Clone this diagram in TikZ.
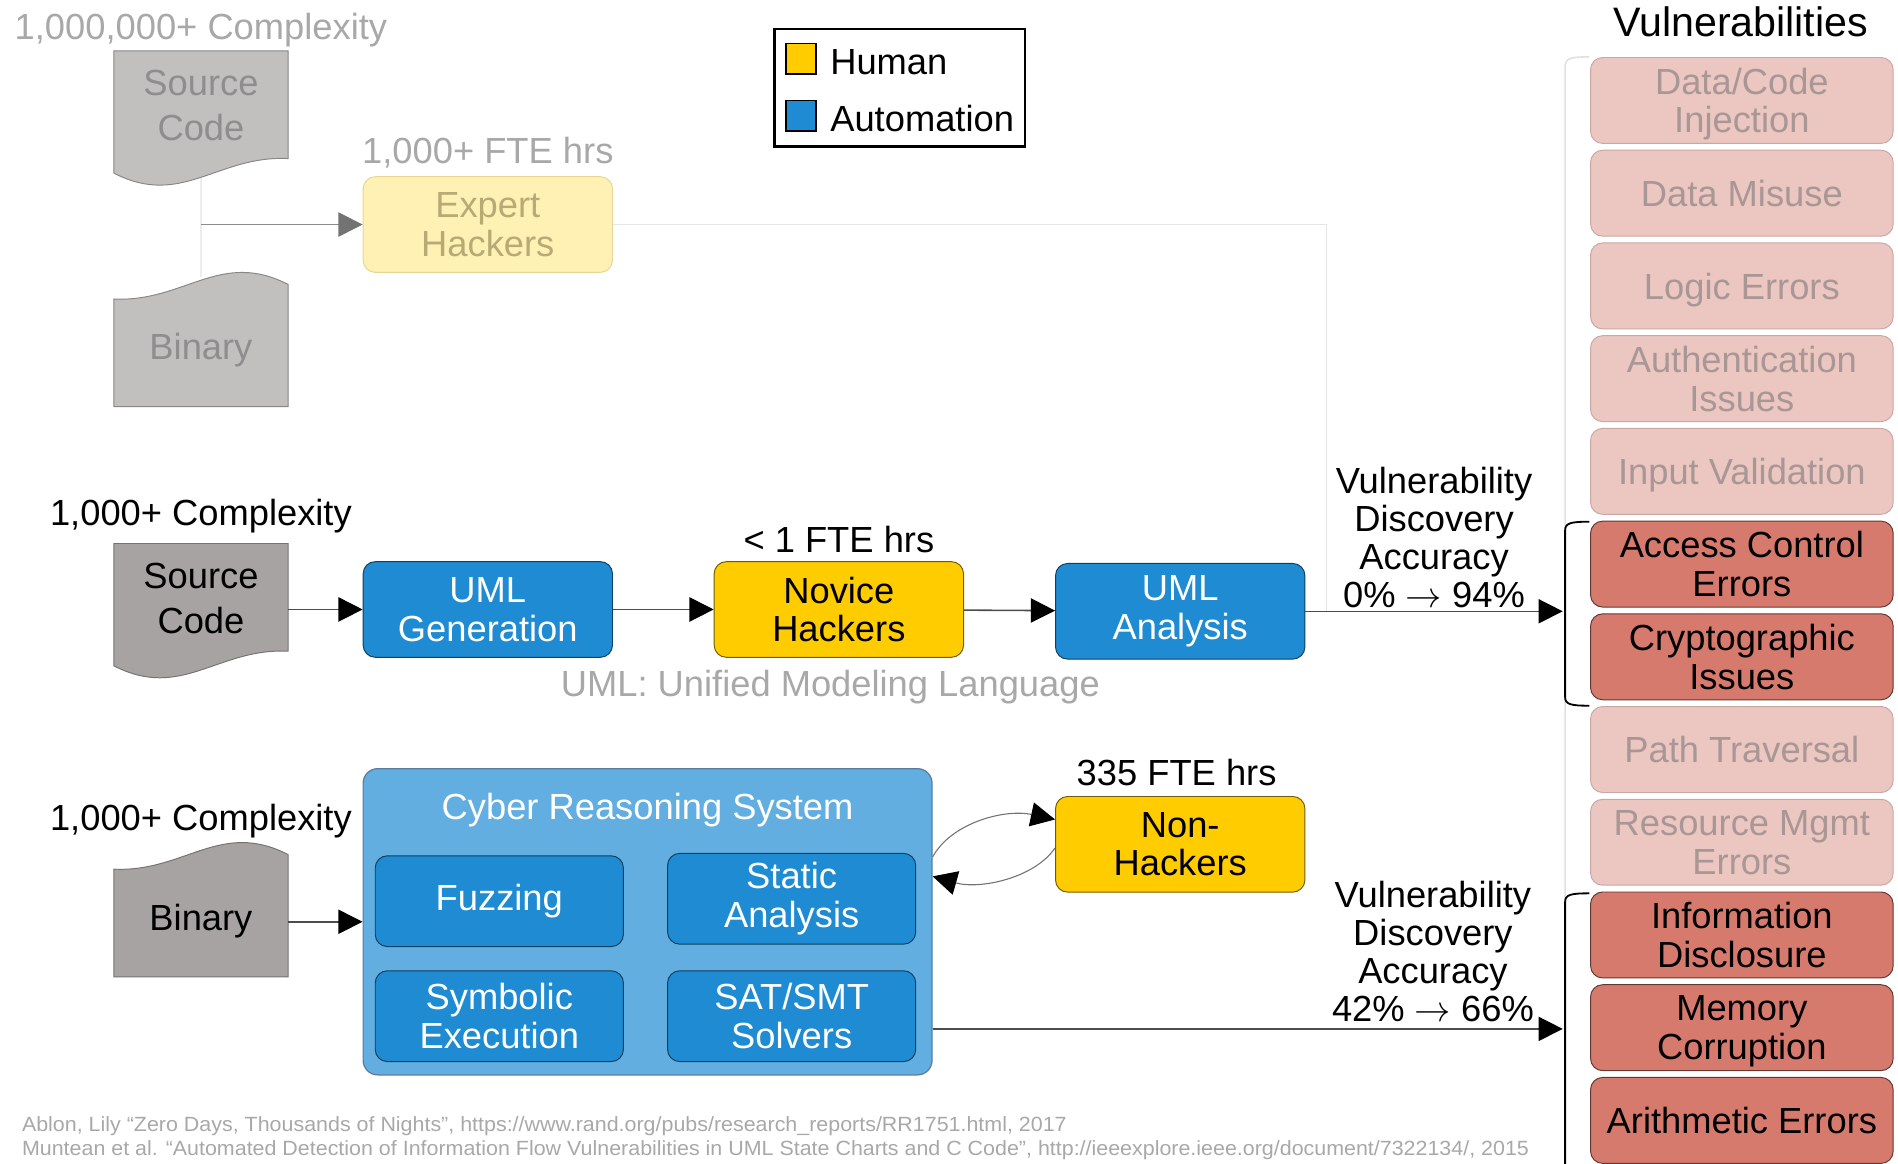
\documentclass[tikz,border=0pt]{standalone}
\usepackage{fix-cm}
\usepackage{fontspec}
\setmainfont{Liberation Sans}
\usepackage{graphicx}
\usetikzlibrary{positioning,arrows.meta,calc}
\definecolor{humanyellow}{HTML}{FFCC00}
\definecolor{autoblue}{HTML}{1E8BD2}
\definecolor{crsblue}{HTML}{62AEE0}
\definecolor{crsedge}{HTML}{5A7C9C}
\definecolor{docgrey}{HTML}{A7A3A3}
\definecolor{fadedoc}{HTML}{C2BFBF}
\definecolor{fadedoctext}{HTML}{8E8E8E}
\definecolor{fadetext}{HTML}{A8A8A8}
\definecolor{expertfill}{HTML}{FFF0B3}
\definecolor{expertdraw}{HTML}{E6D595}
\definecolor{experttext}{HTML}{B8AA74}
\definecolor{vulnlight}{HTML}{ECC6C1}
\definecolor{vulnlighttext}{HTML}{A89795}
\definecolor{vulndark}{HTML}{D77A6E}

\tikzset{
  procbox/.style={rounded corners=10pt, minimum width=206pt, minimum height=79pt,
    inner sep=2pt, align=center, line width=0.8pt},
  autobox/.style={procbox, fill=autoblue, draw=autoblue!45!black, text=white},
  humanbox/.style={procbox, fill=humanyellow, draw=humanyellow!45!black},
  crsitem/.style={autobox, minimum width=205pt, minimum height=75pt},
  vulnbox/.style={rounded corners=10pt, minimum width=250pt, minimum height=71pt,
    inner sep=2pt, text depth=0pt, align=center, line width=0.8pt},
  vlight/.style={vulnbox, fill=vulnlight, draw=vulnlight!85!black, text=vulnlighttext},
  vdark/.style={vulnbox, fill=vulndark, draw=vulndark!45!black},
  doctext/.style={minimum width=144pt, inner sep=0pt, align=center,
    font=\fontsize{30}{37}\selectfont},
  flow/.style={line width=1.3pt, draw=black!70,
    -{Triangle[length=20pt,width=20pt,color=black]}},
  loopflow/.style={line width=0.9pt, draw=black!55,
    -{Triangle[length=20pt,width=20pt,color=black]}},
  lbl/.style={inner sep=2pt, align=center},
  legkey/.style={draw, line width=1.5pt, minimum size=25pt, inner sep=0pt},
}

\begin{document}
\begin{tikzpicture}[x=1pt, y=-1pt, font=\fontsize{30}{32}\selectfont]
  \useasboundingbox (0,0) rectangle (1568,961);

  % document shapes (source code: wave at bottom, binary: wave on top)
  \foreach \ytop/\col in {42/fadedoc, 449/docgrey}
    \filldraw[fill=\col, draw=\col!70!black, line width=0.8pt]
      (94,\ytop) -- (238,\ytop) -- (238,\ytop+89)
      .. controls (180,\ytop+86) and (150,\ytop+130) .. (94,\ytop+101) -- cycle;
  \foreach \ybot/\col in {336/fadedoc, 807/docgrey}
    \filldraw[fill=\col, draw=\col!70!black, line width=0.8pt]
      (94,\ybot) -- (94,\ybot-89)
      .. controls (152,\ybot-86) and (182,\ybot-130) .. (238,\ybot-101)
      -- (238,\ybot) -- cycle;

  % faded top row
  \node[lbl, text=fadetext] (cxA) at (166,25) {1,000,000+ Complexity};
  \node[doctext, text=fadedoctext] (srcA) at (166,87) {Source\\Code};
  \node[doctext, text=fadedoctext] (binA) at (166,289) {Binary};
  \node[procbox, fill=expertfill, draw=expertdraw, text=experttext] (expert) at (403,185.5) {Expert\\Hackers};
  \node[lbl, text=fadetext] (fteA) at (403,126) {1,000+ FTE hrs};
  \coordinate (forkTop) at (166,147);
  \coordinate (forkBot) at (166,229);
  \coordinate (fork) at (166,185.5);
  \draw[line width=1pt, draw=black!7] (forkTop) -- (forkBot);
  \draw[line width=1.3pt, draw=black!45, -{Triangle[length=20pt,width=20pt,color=black!55]}] (fork) -- (expert);

  % legend
  \node[draw, line width=2pt, minimum width=207pt, minimum height=97pt] (legend) at (743.5,72.5) {};
  \node[legkey, fill=humanyellow] (keyH) at (661.5,48.5) {};
  \node[lbl, right=9pt of keyH, yshift=-2.5pt] (keyHtxt) {Human};
  \node[legkey, fill=autoblue] (keyA) at (661.5,95.5) {};
  \node[lbl, right=9pt of keyA, yshift=-2pt] (keyAtxt) {Automation};

  % source code row
  \node[lbl] (cxB) at (166,426) {1,000+ Complexity};
  \node[doctext] (srcB) at (166,494.5) {Source\\Code};
  \node[autobox] (umlgen) at (403,503.5) {UML\\Generation};
  \node[humanbox] (novice) at (693,503.5) {Novice\\Hackers};
  \node[lbl] (fteB) at (693,446) {< 1 FTE hrs};
  \node[autobox] (umla) at (975,505) {UML\\Analysis};
  \node[lbl, text=fadetext] (umlnote) at (686,568) {UML: Unified Modeling Language};
  \coordinate (brkA) at (1291,505);
  \coordinate (mergeA) at (1096,505);
  \draw[line width=1.3pt, draw=black!10] (expert.east) -| (mergeA);
  \draw[flow] (srcB.east |- umlgen.west) -- (umlgen.west);
  \draw[flow] (umlgen) -- (novice);
  \draw[flow] (novice) -- (umla);
  \draw[flow] (umla.east) -- (brkA)
    node[lbl, pos=0.5, above, font=\fontsize{30}{31.5}\selectfont] (accA)
    {Vulnerability\\Discovery\\Accuracy\\0\% $\rightarrow$ 94\%};

  % binary row
  \node[lbl] (cxC) at (166,678) {1,000+ Complexity};
  \node[doctext] (binB) at (166,761) {Binary};
  \node[draw=crsedge, fill=crsblue, rounded corners=12pt, minimum width=470pt,
    minimum height=253pt, line width=1pt] (crs) at (535,761.5) {};
  \node[lbl, text=white] (crstitle) at (535,669) {Cyber Reasoning System};
  \node[crsitem] (fuzz) at (412.5,744.5) {Fuzzing};
  \node[crsitem] (static) at (654,742.5) {Static\\Analysis};
  \node[crsitem] (symb) at (412.5,839.5) {Symbolic\\Execution};
  \node[crsitem] (sat) at (654,839.5) {SAT/SMT\\Solvers};
  \node[humanbox] (nonh) at (975,697.5) {Non-\\Hackers};
  \node[lbl] (fteC) at (972,638) {335 FTE hrs};
  \coordinate (brkB) at (1291,850);
  \draw[flow] (binB.east |- crs.west) -- (crs.west);
  \draw[loopflow] ([yshift=53.5pt]crs.east) .. controls +(15,-28) and +(-42,-9) .. ([yshift=20.5pt]nonh.west);
  \draw[loopflow] ([yshift=-3pt]nonh.west) .. controls +(-17,25) and +(39,11) .. ([yshift=37.5pt]crs.east);
  \draw[flow] (crs.east |- brkB) -- (brkB)
    node[lbl, pos=0.794, above, yshift=3pt, font=\fontsize{30}{31.5}\selectfont] (accB)
    {Vulnerability\\Discovery\\Accuracy\\42\% $\rightarrow$ 66\%};

  % vulnerabilities column
  \node[lbl, font=\fontsize{34}{38}\selectfont] (vtitle) at (1438,18) {Vulnerabilities};
  \foreach \i/\txt/\sty in {0/{Data/Code\\Injection}/vlight, 1/Data Misuse/vlight,
      2/Logic Errors/vlight, 3/{Authentication\\Issues}/vlight, 4/Input Validation/vlight,
      5/{Access Control\\Errors}/vdark, 6/{Cryptographic\\Issues}/vdark,
      7/Path Traversal/vlight, 8/{Resource Mgmt\\Errors}/vlight,
      9/{Information\\Disclosure}/vdark, 10/{Memory\\Corruption}/vdark,
      11/Arithmetic Errors/vdark}
    \node[\sty] (v\i) at (1439,{83+76.6*\i}) {\txt};

  % brackets
  \draw[line width=1.3pt, draw=black!12] (1313,47) .. controls (1298,47) and (1293,48) .. (1293,55) -- (1293,975);
  \draw[line width=1.5pt] (1313,431) .. controls (1298,431) and (1293,432) .. (1293,438)
    -- (1293,576) .. controls (1293,582) and (1298,583) .. (1313,583);
  \draw[line width=1.5pt] (1313,738) .. controls (1298,738) and (1293,739) .. (1293,745) -- (1293,975);

  % references
  \node[anchor=west, inner sep=0pt, text=fadetext] (refA) at (18,930)
    {\resizebox{863pt}{\height}{\fontsize{17}{20}\selectfont Ablon, Lily “Zero Days, Thousands of Nights”, https://www.rand.org/pubs/research\_reports/RR1751.html, 2017}};
  \node[anchor=west, inner sep=0pt, text=fadetext] (refB) at (18,950)
    {\resizebox{1245pt}{\height}{\fontsize{17}{20}\selectfont Muntean et al. “Automated Detection of Information Flow Vulnerabilities in UML State Charts and C Code”, http://ieeexplore.ieee.org/document/7322134/, 2015}};
\end{tikzpicture}
\end{document}
